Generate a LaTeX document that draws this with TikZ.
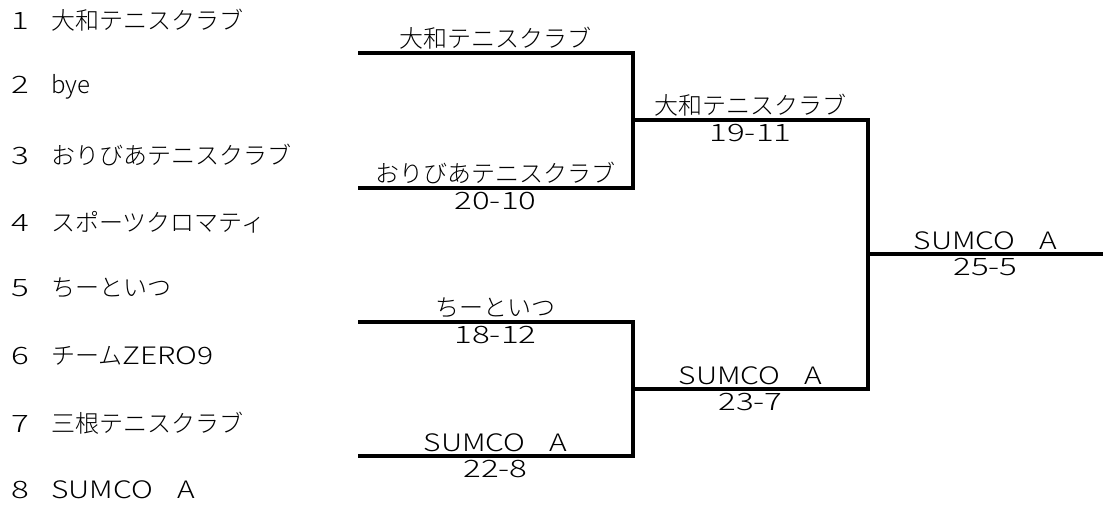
\documentclass[tikz,border=0pt]{standalone}
\usepackage{fontspec}
\newfontfamily\jpfont{Noto Sans CJK JP}[UprightFont={* Light}]
\usetikzlibrary{positioning}

% wider latin capitals and digits, as in the picture
\newcommand{\wideword}[1]{\scalebox{1.25}[1]{#1}}
\newcommand{\widescore}[1]{\scalebox{1.38}[1]{#1}}
\newcommand{\seed}[1]{\makebox[40pt][l]{\widescore{#1}}}

\tikzset{
  entry/.style={anchor=west, inner sep=0pt, font=\jpfont\fontsize{24}{28}\selectfont},
  winner/.style={inner sep=0pt, font=\jpfont\fontsize{24}{28}\selectfont},
  score/.style={inner sep=0pt, font=\jpfont\fontsize{24}{28}\selectfont},
  bracket/.style={line width=3.3pt, line join=miter}
}

\begin{document}
\begin{tikzpicture}[x=1pt, y=-1pt]
    \useasboundingbox (0,0) rectangle (1103,507);

    % the list of teams
    \node[entry] (e1) at (11, 20) {\seed{1}大和テニスクラブ};
    \node[entry] (e2) at (11, 87) {\seed{2}bye};
    \node[entry] (e3) at (11,155) {\seed{3}おりびあテニスクラブ};
    \node[entry] (e4) at (11,222) {\seed{4}スポーツクロマティ};
    \node[entry] (e5) at (11,288) {\seed{5}ちーといつ};
    \node[entry] (e6) at (11,356) {\seed{6}チーム\wideword{ZERO9}};
    \node[entry] (e7) at (11,423) {\seed{7}三根テニスクラブ};
    \node[entry] (e8) at (11,490) {\seed{8}\wideword{SUMCO}　\wideword{A}};

    % first round lines
    \coordinate (a1) at (358, 53);  \coordinate (b1) at (633, 53);
    \coordinate (a2) at (358,188);  \coordinate (b2) at (633,188);
    \coordinate (a3) at (358,322);  \coordinate (b3) at (633,322);
    \coordinate (a4) at (358,456);  \coordinate (b4) at (633,456);
    \draw[bracket] (a1) -- (b1) -- (b2) -- (a2);
    \draw[bracket] (a3) -- (b3) -- (b4) -- (a4);

    % second round lines
    \coordinate (c1) at (633,120);  \coordinate (d1) at (868,120);
    \coordinate (c2) at (633,389);  \coordinate (d2) at (868,389);
    \draw[bracket] (c1) -- (d1) -- (d2) -- (c2);

    % final line
    \coordinate (f1) at (868,254);  \coordinate (f2) at (1103,254);
    \draw[bracket] (f1) -- (f2);

    % the middle of each line
    \coordinate (m1) at (495.5, 53);
    \coordinate (m2) at (495.5,188);
    \coordinate (m3) at (495.5,322);
    \coordinate (m4) at (495.5,456);
    \coordinate (n1) at (750.5,120);
    \coordinate (n2) at (750.5,389);
    \coordinate (k1) at (985.5,254);

    % first round winners and scores
    \node[winner, above=4pt of m1] (w1) {大和テニスクラブ};
    \node[winner, above=4pt of m2] (w2) {おりびあテニスクラブ};
    \node[score,  below=4pt of m2] (s2) {\widescore{20-10}};
    \node[winner, above=4pt of m3] (w3) {ちーといつ};
    \node[score,  below=4pt of m3] (s3) {\widescore{18-12}};
    \node[winner, above=4pt of m4] (w4) {\wideword{SUMCO}　\wideword{A}};
    \node[score,  below=4pt of m4] (s4) {\widescore{22-8}};

    % second round winners and scores
    \node[winner, above=4pt of n1] (v1) {大和テニスクラブ};
    \node[score,  below=4pt of n1] (r1) {\widescore{19-11}};
    \node[winner, above=4pt of n2] (v2) {\wideword{SUMCO}　\wideword{A}};
    \node[score,  below=4pt of n2] (r2) {\widescore{23-7}};

    % the final
    \node[winner, above=4pt of k1] (champ) {\wideword{SUMCO}　\wideword{A}};
    \node[score,  below=4pt of k1] (fin) {\widescore{25-5}};

\end{tikzpicture}
\end{document}
